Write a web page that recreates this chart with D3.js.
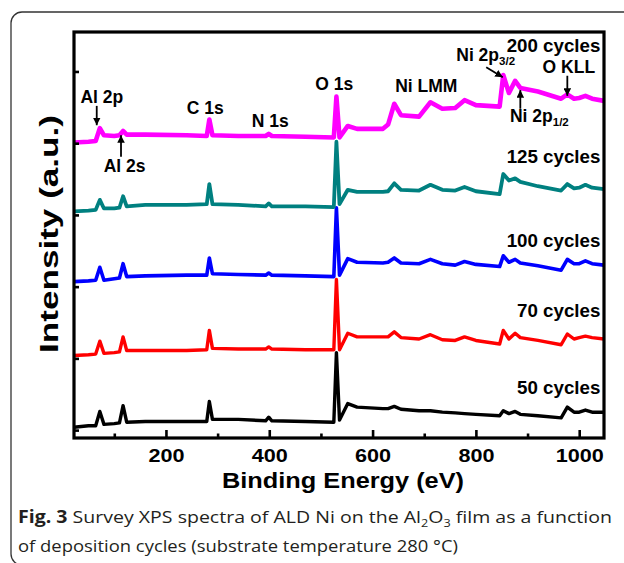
<!DOCTYPE html>
<html>
<head>
<meta charset="utf-8">
<script src="https://cdn.jsdelivr.net/npm/d3@7"></script>
<style>
  body { margin: 0; background: #fff; }
  svg { display: block; }
  .lbl { font-family: "Liberation Sans", Arial, sans-serif; font-weight: bold; fill: #000; }
  .caption { font-family: "Open Sans", sans-serif; fill: #231f20; }
</style>
</head>
<body>
<script>
// binding energy grid (eV), shared by all spectra
const energy = [22, 50, 64, 72, 80, 100, 110, 117, 124, 160, 240, 279, 284, 290, 340, 393, 399, 405, 470, 525,
  530, 536, 552, 570, 620, 630, 642, 655, 690, 712, 735, 760, 778, 800, 846, 853, 864, 876, 886, 920,
  965, 977, 990, 1000, 1012, 1025, 1048];

// stacked intensities (a.u.)
const cycles50 = [4, 6, 6, 26, 8, 9, 10, 34, 11, 12, 12, 12, 40, 15, 15, 13, 18, 13, 12, 11,
  108, 14, 37, 32, 30, 30, 33, 29, 27, 27, 25, 24, 23, 22, 20, 27, 23, 26, 22, 20,
  17, 32, 25, 25, 28, 25, 25];
const cycles70 = [104, 105, 106, 124, 107, 108, 109, 130, 111, 111, 111, 112, 139, 114, 113, 113, 116, 113, 112, 112,
  210, 112, 135, 130, 130, 130, 137, 129, 127, 133, 126, 125, 130, 125, 120, 139, 127, 135, 129, 125,
  119, 134, 127, 129, 131, 129, 127];
const cycles100 = [207, 208, 209, 227, 209, 211, 212, 232, 214, 215, 216, 216, 240, 218, 217, 216, 219, 216, 215, 214,
  310, 216, 239, 234, 233, 234, 240, 233, 232, 238, 232, 230, 235, 231, 228, 243, 234, 238, 233, 229,
  223, 238, 232, 232, 236, 232, 230];
const cycles125 = [305, 306, 307, 321, 309, 309, 310, 326, 312, 314, 314, 315, 343, 315, 314, 312, 316, 312, 312, 311,
  402, 315, 335, 332, 332, 333, 344, 335, 334, 342, 335, 334, 339, 333, 329, 357, 348, 351, 346, 340,
  334, 343, 337, 338, 342, 338, 336];
const cycles200 = [401, 402, 403, 421, 411, 410, 411, 417, 412, 412, 411, 410, 433, 411, 410, 410, 413, 410, 409, 408,
  465, 408, 424, 420, 420, 426, 455, 439, 437, 457, 448, 449, 460, 453, 451, 495, 470, 487, 477, 472,
  462, 468, 462, 463, 466, 462, 459];

const seriesNames = ['50 cycles', '70 cycles', '100 cycles', '125 cycles', '200 cycles'];
const labelLevels = [50, 157, 255, 373, 527];

const xTicks = [200, 400, 600, 800, 1000];
const xMinorTicks = [100, 300, 500, 700, 900];
const yTicks = [0, 100, 200, 300, 400, 500];

const peakLabels = [
  { text: 'Al 2p', e: 76, i: 456 },
  { text: 'Al 2s', e: 120, i: 360 },
  { text: 'C 1s', e: 276, i: 440 },
  { text: 'N 1s', e: 402, i: 422 },
  { text: 'O 1s', e: 526, i: 474 },
  { text: 'Ni LMM', e: 704, i: 472 },
  { text: 'O KLL', e: 980, i: 498 }
];
const subLabels = [
  { text: 'Ni 2p', sub: '3/2', e: 762, i: 515 },
  { text: 'Ni 2p', sub: '1/2', e: 866, i: 429 }
];
const arrows = [
  { e0: 66, i0: 452, e1: 66, i1: 425 },
  { e0: 113, i0: 381, e1: 113, i1: 411 },
  { e0: 820, i0: 506, e1: 852, i1: 492 },
  { e0: 886, i0: 448, e1: 886, i1: 474 },
  { e0: 977, i0: 494, e1: 977, i1: 466 }
];

const colors = ['#000000', '#ff0000', '#0000ff', '#008080', '#ff00ff'];
const widths = [3.4, 3.4, 3.6, 3.8, 4.6];

const width = 624, height = 563;
const plot = { left: 74, right: 604, top: 32, bottom: 438 };

const xScale = d3.scaleLinear().domain([22, 1048]).range([plot.left, plot.right]);
const yScale = d3.scaleLinear().domain([-11, 555]).range([plot.bottom, plot.top]);

function stretch(factor) {
  return function () {
    const w = this.getComputedTextLength();
    d3.select(this).attr('textLength', w * factor).attr('lengthAdjust', 'spacingAndGlyphs');
  };
}

const svg = d3.select('body').append('svg')
  .attr('width', width)
  .attr('height', height);

// rounded figure box
svg.append('rect')
  .attr('x', 11).attr('y', 12)
  .attr('width', 660).attr('height', 553)
  .attr('rx', 11)
  .attr('fill', 'none')
  .attr('stroke', '#333')
  .attr('stroke-width', 1.3);

const line = d3.line()
  .x(d => xScale(d[0]))
  .y(d => yScale(d[1]));

[cycles50, cycles70, cycles100, cycles125, cycles200].forEach((vals, k) => {
  svg.append('path')
    .datum(energy.map((e, j) => [e, vals[j]]))
    .attr('d', line)
    .attr('fill', 'none')
    .attr('stroke', colors[k])
    .attr('stroke-width', widths[k])
    .attr('stroke-linejoin', 'round');
});

// axes: inward ticks
const gx = svg.append('g')
  .attr('transform', `translate(0,${plot.bottom})`)
  .call(d3.axisBottom(xScale).tickValues(xTicks).tickSize(-8).tickPadding(11).tickFormat(d3.format('d')));
gx.select('.domain').remove();
gx.selectAll('line').attr('stroke-width', 2.6);
gx.selectAll('text')
  .attr('class', 'lbl')
  .attr('font-size', 18)
  .each(stretch(1.2));

const gxm = svg.append('g')
  .attr('transform', `translate(0,${plot.bottom})`)
  .call(d3.axisBottom(xScale).tickValues(xMinorTicks).tickSize(-4.5).tickFormat(''));
gxm.select('.domain').remove();
gxm.selectAll('line').attr('stroke-width', 2.6);

const gy = svg.append('g')
  .attr('transform', `translate(${plot.left},0)`)
  .call(d3.axisLeft(yScale).tickValues(yTicks).tickSize(-5).tickFormat(''));
gy.select('.domain').remove();
gy.selectAll('line').attr('stroke-width', 2.6);

// frame
svg.append('rect')
  .attr('x', plot.left).attr('y', plot.top)
  .attr('width', plot.right - plot.left)
  .attr('height', plot.bottom - plot.top)
  .attr('fill', 'none')
  .attr('stroke', '#000')
  .attr('stroke-width', 3.2);

// axis titles
svg.append('text')
  .attr('class', 'lbl')
  .attr('x', 343).attr('y', 488)
  .attr('text-anchor', 'middle')
  .attr('font-size', 22.5)
  .text('Binding Energy (eV)')
  .attr('textLength', 242).attr('lengthAdjust', 'spacingAndGlyphs');

svg.append('text')
  .attr('class', 'lbl')
  .attr('transform', 'translate(58,234) rotate(-90)')
  .attr('text-anchor', 'middle')
  .attr('font-size', 25)
  .text('Intensity (a.u.)')
  .attr('textLength', 238).attr('lengthAdjust', 'spacingAndGlyphs');

// series labels
svg.selectAll('.cyc')
  .data(seriesNames)
  .enter()
  .append('text')
  .attr('class', 'lbl cyc')
  .attr('x', xScale(1041))
  .attr('y', (d, k) => yScale(labelLevels[k]))
  .attr('text-anchor', 'end')
  .attr('font-size', 17.5)
  .text(d => d)
  .each(stretch(1.07));

// peak labels
svg.selectAll('.peak')
  .data(peakLabels)
  .enter()
  .append('text')
  .attr('class', 'lbl peak')
  .attr('x', d => xScale(d.e))
  .attr('y', d => yScale(d.i))
  .attr('text-anchor', 'middle')
  .attr('font-size', 17.5)
  .text(d => d.text);

subLabels.forEach(d => {
  const t = svg.append('text')
    .attr('class', 'lbl')
    .attr('x', xScale(d.e))
    .attr('y', yScale(d.i))
    .attr('font-size', 17.5);
  t.append('tspan').text(d.text);
  t.append('tspan').attr('font-size', 11.5).attr('dy', 4).text(d.sub);
});

// arrows
svg.append('defs').append('marker')
  .attr('id', 'head')
  .attr('viewBox', '0 0 10 10')
  .attr('refX', 10).attr('refY', 5)
  .attr('markerWidth', 4.2).attr('markerHeight', 4.2)
  .attr('orient', 'auto')
  .append('path')
  .attr('d', 'M0,0L10,5L0,10Z')
  .attr('fill', '#000');

svg.selectAll('.arrow')
  .data(arrows)
  .enter()
  .append('line')
  .attr('class', 'arrow')
  .attr('x1', d => xScale(d.e0))
  .attr('y1', d => yScale(d.i0))
  .attr('x2', d => xScale(d.e1))
  .attr('y2', d => yScale(d.i1))
  .attr('stroke', '#000')
  .attr('stroke-width', 1.8)
  .attr('marker-end', 'url(#head)');

// caption
const cap1 = svg.append('text').attr('class', 'caption').attr('x', 18).attr('y', 523).attr('font-size', 17);
cap1.append('tspan').attr('font-weight', 'bold').text('Fig. 3');
cap1.append('tspan').text(' Survey XPS spectra of ALD Ni on the Al');
cap1.append('tspan').attr('font-size', 11).attr('dy', 4).text('2');
cap1.append('tspan').attr('dy', -4).text('O');
cap1.append('tspan').attr('font-size', 11).attr('dy', 4).text('3');
cap1.append('tspan').attr('dy', -4).text(' film as a function');
cap1.attr('textLength', 594).attr('lengthAdjust', 'spacingAndGlyphs');

svg.append('text').attr('class', 'caption')
  .attr('x', 18).attr('y', 552).attr('font-size', 17)
  .text('of deposition cycles (substrate temperature 280 °C)')
  .attr('textLength', 440).attr('lengthAdjust', 'spacingAndGlyphs');
</script>
</body>
</html>
